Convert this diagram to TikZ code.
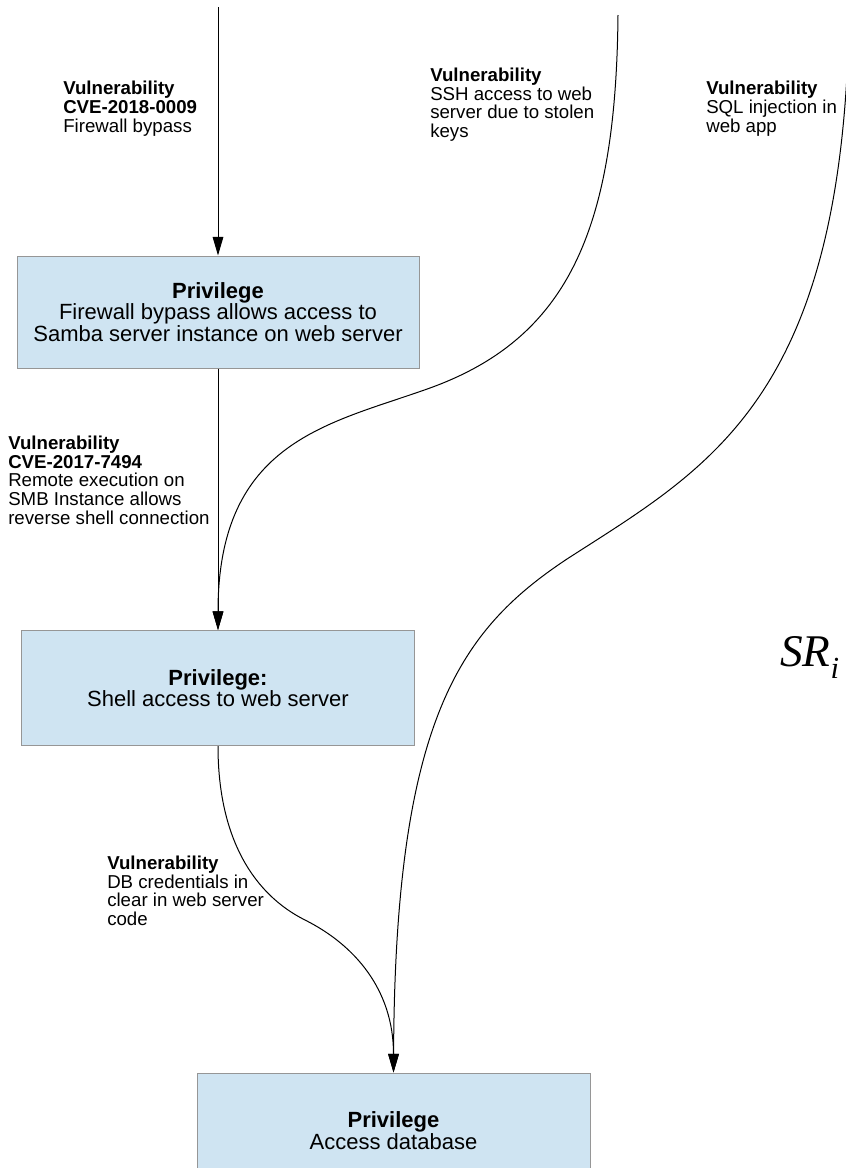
\documentclass[tikz,border=0pt]{standalone}
\usepackage{fontspec}
\setmainfont{Liberation Sans}
\newfontfamily\srfont{Liberation Serif}
\usetikzlibrary{arrows.meta}
\definecolor{boxfill}{RGB}{207,228,242}
\definecolor{boxdraw}{RGB}{150,150,150}
\begin{document}
\begin{tikzpicture}[x=0.75pt,y=-0.75pt,
  privbox/.style={draw=boxdraw, fill=boxfill, line width=0.75pt, inner sep=0pt, align=center, font=\fontsize{16.5}{16}\selectfont},
  vulnlabel/.style={anchor=north west, inner sep=0pt, align=left, font=\fontsize{14}{14.06}\selectfont},
  conn/.style={line width=0.75pt, draw=black},
  arr/.style={conn, -{Triangle[length=14pt,width=8pt]}}]
\useasboundingbox (0,0) rectangle (846,1168);
\clip (0,0) rectangle (846,1168);
\fill[white] (0,0) rectangle (846,1168);

% privilege boxes
\node[privbox, minimum width=301.5pt, minimum height=84pt] (p1) at (218,312) {\textbf{Privilege}\\Firewall bypass allows access to\\Samba server instance on web server};
\node[privbox, minimum width=294.75pt, minimum height=86.25pt] (p2) at (218,688) {\textbf{Privilege:}\\Shell access to web server};
\node[privbox, minimum width=294.75pt, minimum height=86.25pt] (p3) at (393.5,1130.5) {\textbf{Privilege}\\Access database};

% free ends
\coordinate (s1) at (218,7);
\coordinate (s2) at (618,15);
\coordinate (s3) at (849,20);

% connectors
\draw[arr] (s1) -- (p1.north);
\draw[arr] (p1.south) -- (p2.north);
\draw[arr] (s2) .. controls (616,230) and (568,338) .. (430,388) .. controls (330,424) and (218,440) .. (p2.north);
\draw[arr] (s3) .. controls (842,400) and (708,468) .. (567,559) .. controls (460,630) and (395,720) .. (p3.north);
\draw[arr] (p2.south) .. controls (218,840) and (255,895) .. (305,920) .. controls (355,945) and (393.5,990) .. (p3.north);

% vulnerability labels
\node[vulnlabel] (v1) at (63,81) {\textbf{Vulnerability}\\\textbf{CVE-2018-0009}\\Firewall bypass};
\node[vulnlabel] (v2) at (430,67.6) {\textbf{Vulnerability}\\SSH access to web\\server due to stolen\\keys};
\node[vulnlabel] (v3) at (706,81) {\textbf{Vulnerability}\\SQL injection in\\web app};
\node[vulnlabel] (v4) at (8,435.6) {\textbf{Vulnerability}\\\textbf{CVE-2017-7494}\\Remote execution on\\SMB Instance allows\\reverse shell connection};
\node[vulnlabel] (v5) at (107,855.6) {\textbf{Vulnerability}\\DB credentials in\\clear in web server\\code};

% SR_i
\node[anchor=base west, inner sep=0pt] (sr) at (780,666) {\srfont\fontsize{34}{34}\selectfont\itshape SR\raisebox{-9pt}{\fontsize{23}{23}\selectfont i}};
\end{tikzpicture}
\end{document}
